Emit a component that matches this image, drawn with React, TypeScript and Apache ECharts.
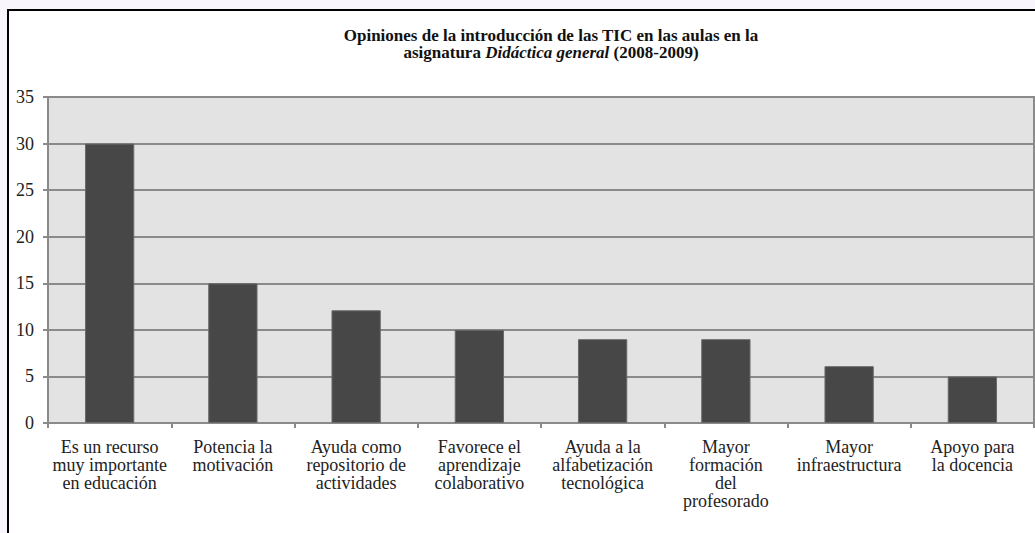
import React, { useEffect, useRef } from "react";
import * as echarts from "echarts";

const categories = [
  "Es un recurso\nmuy importante\nen educación",
  "Potencia la\nmotivación",
  "Ayuda como\nrepositorio de\nactividades",
  "Favorece el\naprendizaje\ncolaborativo",
  "Ayuda a la\nalfabetización\ntecnológica",
  "Mayor\nformación\ndel\nprofesorado",
  "Mayor\ninfraestructura",
  "Apoyo para\nla docencia",
];
const values = [30, 15, 12.1, 10, 9, 9, 6.1, 5];
const yTicks = { min: 0, max: 35, interval: 5 };

const FONT = "Liberation Serif, Times New Roman, serif";

export default function App() {
  const ref = useRef<HTMLDivElement>(null);
  useEffect(() => {
    if (!ref.current) return;
    const chart = echarts.init(ref.current, null, { renderer: "svg" });
    chart.setOption({
      animation: false,
      backgroundColor: "#f9f5fc",
      graphic: {
        elements: [
          {
            type: "rect",
            z: -100,
            silent: true,
            shape: { x: 8, y: 10, width: 1100, height: 600 },
            style: { fill: "#ffffff", stroke: "#000000", lineWidth: 2 },
          },
        ],
      },
      title: {
        left: 546,
        top: 22,
        textAlign: "center",
        text:
          "{b|Opiniones de la introducción de las TIC en las aulas en la}\n{b|asignatura }{i|Didáctica general}{b| (2008-2009)}",
        textStyle: {
          rich: {
            b: {
              fontFamily: FONT,
              fontWeight: "bold",
              fontSize: 17,
              color: "#111",
              lineHeight: 17,
            },
            i: {
              fontFamily: FONT,
              fontWeight: "bold",
              fontStyle: "italic",
              fontSize: 17,
              color: "#111",
              lineHeight: 17,
            },
          },
        },
      },
      grid: {
        left: 48,
        right: 1,
        top: 97,
        bottom: 110,
        show: true,
        backgroundColor: "#e3e3e3",
        borderColor: "#8a8a8a",
        borderWidth: 2,
        containLabel: false,
      },
      xAxis: {
        type: "category",
        data: categories,
        axisLine: { lineStyle: { color: "#8a8a8a", width: 2 } },
        axisTick: { show: true, length: 5, lineStyle: { color: "#8a8a8a", width: 2 } },
        axisLabel: {
          interval: 0,
          margin: 15,
          fontFamily: FONT,
          fontSize: 18,
          lineHeight: 18,
          color: "#222",
        },
      },
      yAxis: {
        type: "value",
        min: yTicks.min,
        max: yTicks.max,
        interval: yTicks.interval,
        axisLine: { show: true, lineStyle: { color: "#8a8a8a", width: 2 } },
        axisTick: { show: true, length: 5, lineStyle: { color: "#8a8a8a", width: 2 } },
        splitLine: { show: true, lineStyle: { color: "#8a8a8a", width: 2 } },
        axisLabel: {
          margin: 14,
          fontFamily: FONT,
          fontSize: 18,
          color: "#222",
        },
      },
      series: [
        {
          type: "bar",
          data: values,
          barWidth: "40%",
          itemStyle: { color: "#474747", borderColor: "#6a6a6a", borderWidth: 1 },
        },
      ],
    });
    return () => chart.dispose();
  }, []);
  return (
    <div
      ref={ref}
      style={{ position: "absolute", left: 0, top: 0, width: 1035, height: 533 }}
    />
  );
}
